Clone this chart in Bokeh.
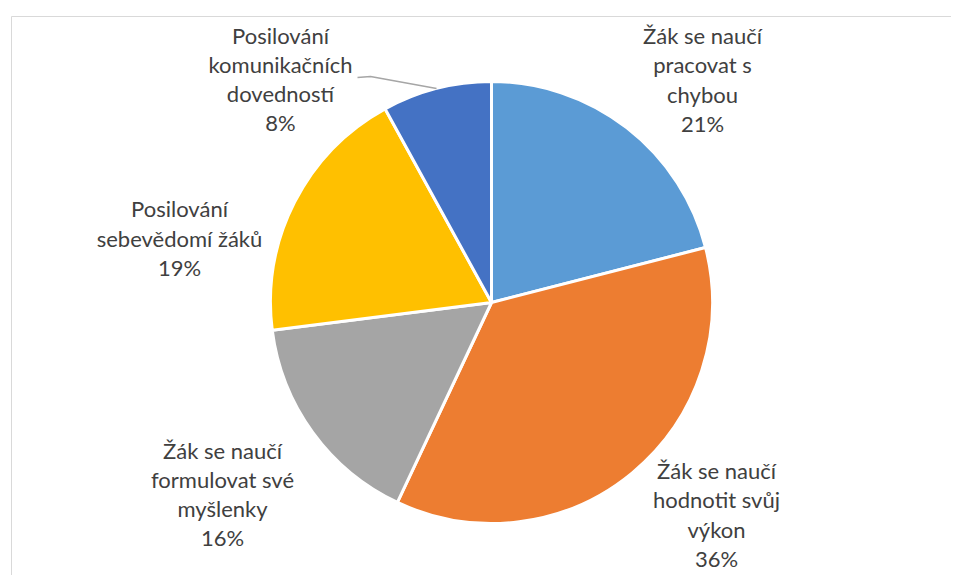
import math
from bokeh.plotting import figure
from bokeh.models import Range1d, ColumnDataSource
from bokeh.core.properties import value
from bokeh.embed import file_html
from bokeh.resources import INLINE

# ---- data ----
categories = [
    "Žák se naučí\npracovat s\nchybou",
    "Žák se naučí\nhodnotit svůj\nvýkon",
    "Žák se naučí\nformulovat své\nmyšlenky",
    "Posilování\nsebevědomí žáků",
    "Posilování\nkomunikačních\ndovedností",
]
shares = [21, 36, 16, 19, 8]
colors = ["#5B9BD5", "#ED7D31", "#A5A5A5", "#FFC000", "#4472C4"]

# ---- layout ----
W, H = 951, 575
CX, CY, R = 491, 273, 221
# label block centre offsets from pie centre (pixels, y up)
label_dx = [211, 225, -269, -312, -211]
label_dy = [223, -212, -191.5, 64.5, 223.5]
FONT = "Lato"
FSIZE = 22
LINE_H = 29.3

p = figure(width=W, height=H, output_backend="svg", toolbar_location=None,
           x_range=Range1d(0, W), y_range=Range1d(0, H), min_border=0)
p.axis.visible = False
p.grid.visible = False
p.outline_line_color = None
p.background_fill_color = "white"
p.border_fill_color = "white"

# chart frame (left & top edges visible)
p.line(x=[11, 11], y=[-20, 559], line_color="#D9D9D9", line_width=1)
p.line(x=[11, W + 20], y=[559, 559], line_color="#D9D9D9", line_width=1)

total = float(sum(shares))
starts, ends, mids = [], [], []
cum = 0.0
for s in shares:
    a0 = math.pi / 2 - 2 * math.pi * cum / total
    cum += s
    a1 = math.pi / 2 - 2 * math.pi * cum / total
    starts.append(a0)
    ends.append(a1)
    mids.append((a0 + a1) / 2)

src = ColumnDataSource(dict(start=starts, end=ends, color=colors))
p.wedge(x=CX, y=CY, radius=R, start_angle="start", end_angle="end",
        direction="clock", fill_color="color", line_color="white",
        line_width=3, source=src)

# labels
for i, (cat, s) in enumerate(zip(categories, shares)):
    lines = cat.split("\n") + [f"{s}%"]
    n = len(lines)
    lx = CX + label_dx[i]
    ly = CY + label_dy[i]
    ys = [ly + (n - 1) / 2 * LINE_H - k * LINE_H for k in range(n)]
    p.text(x=[lx] * n, y=ys, text=lines, text_align="center",
           text_baseline="middle", text_color="#404040",
           text_font=value(FONT), text_font_size=f"{FSIZE}px")

# leader line for the small slice
i = 4
ex = CX + R * math.cos(mids[i])
ey = CY + R * math.sin(mids[i])
lx = CX + label_dx[i]
ly = CY + label_dy[i]
p.line(x=[lx + 77, lx + 90, ex], y=[ly + 1.5, ly + 2.5, ey],
       line_color="#A6A6A6", line_width=1.5)

open("out.html", "w").write(file_html(p, INLINE))
